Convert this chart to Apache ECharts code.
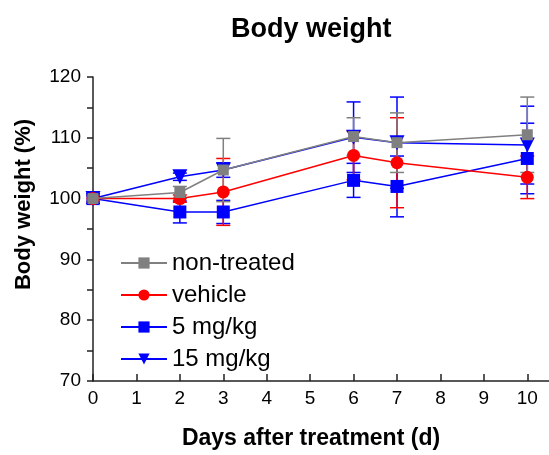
<!DOCTYPE html>
<html>
<head>
<meta charset="utf-8">
<script src="https://cdn.jsdelivr.net/npm/echarts@6/dist/echarts.min.js"></script>
<style>
  html, body { margin: 0; padding: 0; background: #fff; }
  #chart { width: 549px; height: 455px; }
</style>
</head>
<body>
<div id="chart"></div>
<script>
// days after treatment
const days = [0, 2, 3, 6, 7, 10]
const xTicks = [0, 1, 2, 3, 4, 5, 6, 7, 8, 9, 10]

// mean body weight (%) and error (+/-)
const nonTreated = [100, 101.0, 104.7, 110.2, 109.2, 110.5]
const nonTreatedErr = [0.5, 1.0, 5.2, 3.1, 4.9, 6.2]
const vehicle = [100, 100.0, 101.1, 107.1, 105.9, 103.5]
const vehicleErr = [0.5, 0.6, 5.5, 4.0, 7.4, 3.5]
const dose5 = [100, 97.8, 97.8, 103.0, 102.0, 106.6]
const dose5Err = [0.8, 1.8, 1.9, 2.8, 5.0, 5.8]
const dose15 = [100, 103.6, 104.7, 110.1, 109.2, 108.8]
const dose15Err = [0.5, 0.6, 1.2, 5.8, 7.5, 6.4]

const FONT = 'Liberation Sans, Arial, sans-serif'

const chart = echarts.init(document.getElementById('chart'))

// 均值折线
const lineSeries = (name, values, color, symbol, size, rotate, z) => ({
  name,
  type: 'line',
  data: days.map((d, i) => [d, values[i]]),
  symbol,
  symbolSize: size,
  symbolRotate: rotate || 0,
  itemStyle: { color },
  lineStyle: { color, width: 1.5 },
  emphasis: { disabled: true },
  z,
})

// 误差线 (custom series)
const errSeries = (name, values, errs, color) => ({
  name,
  type: 'custom',
  data: days.map((d, i) => [d, values[i] - errs[i], values[i] + errs[i]]),
  itemStyle: { color },
  renderItem: (params, api) => {
    const lo = api.coord([api.value(0), api.value(1)])
    const hi = api.coord([api.value(0), api.value(2)])
    const w = 7
    const style = { stroke: color, lineWidth: 1.5 }
    return {
      type: 'group',
      children: [
        { type: 'line', shape: { x1: lo[0], y1: lo[1], x2: hi[0], y2: hi[1] }, style },
        { type: 'line', shape: { x1: lo[0] - w, y1: lo[1], x2: lo[0] + w, y2: lo[1] }, style },
        { type: 'line', shape: { x1: hi[0] - w, y1: hi[1], x2: hi[0] + w, y2: hi[1] }, style },
      ],
    }
  },
  z: 2,
  silent: true,
})

const option = {
  animation: false,
  textStyle: { fontFamily: FONT },
  title: {
    text: 'Body weight',
    left: 226,
    top: 11,
    textStyle: { fontFamily: FONT, fontSize: 27, fontWeight: 'bold', color: '#000' },
  },
  grid: { left: 93, right: 0, top: 77, bottom: 73 },
  legend: {
    orient: 'vertical',
    left: 115,
    top: 246,
    itemWidth: 46,
    itemHeight: 14,
    itemGap: 8,
    data: ['non-treated', 'vehicle', '5 mg/kg', '15 mg/kg'],
    textStyle: { fontFamily: FONT, fontSize: 24, color: '#000' },
  },
  xAxis: {
    type: 'value',
    min: 0,
    max: 10.5,
    interval: 1,
    name: 'Days after treatment (d)',
    nameLocation: 'middle',
    nameGap: 46,
    nameTextStyle: { fontFamily: FONT, fontSize: 23, fontWeight: 'bold', color: '#000', padding: [0, 20, 0, 0] },
    axisLine: { lineStyle: { color: '#222', width: 1.5 } },
    axisTick: { inside: true, length: 7, customValues: xTicks, lineStyle: { color: '#222', width: 1.5 } },
    axisLabel: { customValues: xTicks, margin: 8, fontSize: 19, color: '#000', fontFamily: FONT },
    splitLine: { show: false },
  },
  yAxis: {
    type: 'value',
    min: 70,
    max: 120,
    interval: 10,
    name: 'Body weight (%)',
    nameLocation: 'middle',
    nameGap: 58,
    nameTextStyle: { fontFamily: FONT, fontSize: 22, fontWeight: 'bold', color: '#000', padding: [0, 0, 0, 49] },
    axisLine: { show: true, lineStyle: { color: '#222', width: 1.5 } },
    axisTick: { show: true, length: 6, lineStyle: { color: '#222', width: 1.5 } },
    minorTick: { show: true, splitNumber: 2, length: 6, lineStyle: { color: '#222', width: 1.5 } },
    axisLabel: { margin: 12, fontSize: 19, color: '#000', fontFamily: FONT },
    splitLine: { show: false },
  },
  series: [
    lineSeries('non-treated', nonTreated, '#808080', 'rect', 11, 0, 6),
    lineSeries('vehicle', vehicle, '#ff0000', 'circle', 13, 0, 5),
    lineSeries('5 mg/kg', dose5, '#0000ff', 'rect', 13, 0, 4),
    lineSeries('15 mg/kg', dose15, '#0000ff', 'triangle', 15, 180, 3),
    errSeries('15 mg/kg', dose15, dose15Err, '#0000ff'),
    errSeries('5 mg/kg', dose5, dose5Err, '#0000ff'),
    errSeries('vehicle', vehicle, vehicleErr, '#ff0000'),
    errSeries('non-treated', nonTreated, nonTreatedErr, '#808080'),
  ],
}

chart.setOption(option)
</script>
</body>
</html>
